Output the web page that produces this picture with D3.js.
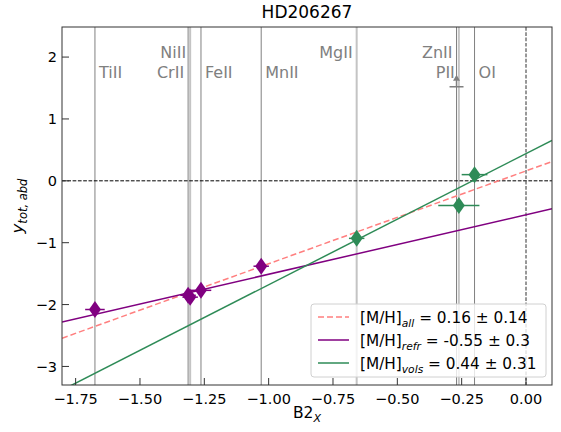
<!DOCTYPE html>
<html>
<head>
<meta charset="utf-8">
<script src="https://cdn.jsdelivr.net/npm/d3@7"></script>
<style>
	body { margin: 0; background: #fff; }
	svg { font-family: "DejaVu Sans", sans-serif; }
</style>
</head>
<body>
<svg id="svgDepl" width="561" height="432"></svg>
<script>
// element lines (B2_X positions), labels, alignment
const elemNames = ["TiII", "NiII", "CrII", "FeII", "MnII", "MgII", "ZnII", "PII", "OI"];
const elemX = [-1.675, -1.305, -1.313, -1.263, -1.029, -0.658, -0.270, -0.261, -0.200];
const elemRow = [0, 1, 0, 0, 0, 1, 1, 0, 0]; // 1 = upper row
const elemSide = ["right", "left", "left", "right", "right", "left", "left", "left", "right"];
const elemFaint = [false, true, false, false, false, true, false, true, false];

// measured points
const ptNames = ["TiII", "CrII", "NiII", "FeII", "MnII", "MgII", "PII", "OI"];
const ptX = [-1.675, -1.313, -1.305, -1.263, -1.029, -0.658, -0.261, -0.200];
const ptY = [-2.08, -1.85, -1.88, -1.77, -1.38, -0.93, -0.40, 0.10];
const ptXerr = [0.038, 0.03, 0.03, 0.04, 0.03, 0.03, 0.08, 0.05];
const ptGroup = ["refr", "refr", "refr", "refr", "refr", "vols", "vols", "vols"];

// upper limit (ZnII)
const limX = [-0.270];
const limY = [1.52];

// fits: y = intercept + slope * x
const fitNames = ["all", "refr", "vols"];
const fitIntercept = [0.16, -0.55, 0.44];
const fitSlope = [1.50, 0.96, 2.12];
const fitLabel = ["= 0.16 \u00b1 0.14", "= -0.55 \u00b1 0.3", "= 0.44 \u00b1 0.31"];
const fitColor = ["#ff7f7f", "#800080", "#2e8b57"];
const fitDash = ["6,3", null, null];

const xTicks = [-1.75, -1.5, -1.25, -1.0, -0.75, -0.5, -0.25, 0.0];
const yTicks = [-3, -2, -1, 0, 1, 2];

let margin = { top: 27, right: 9, bottom: 47, left: 62 };
let width = 561, height = 432;

let svg = d3.select("#svgDepl");

let x = d3.scaleLinear().domain([-1.803, 0.101]).range([margin.left, width - margin.right]);
let y = d3.scaleLinear().domain([-3.30, 2.486]).range([height - margin.bottom, margin.top]);

let fmtX = (d) => d3.format(".2f")(d).replace("-", "\u2212");
let fmtY = (d) => d3.format("d")(d).replace("-", "\u2212");

svg.append("defs")
	.append("clipPath")
	.attr("id", "plotclip")
	.append("rect")
	.attr("x", x.range()[0])
	.attr("y", y.range()[1])
	.attr("width", x.range()[1] - x.range()[0])
	.attr("height", y.range()[0] - y.range()[1]);

let plot = svg.append("g").attr("clip-path", "url(#plotclip)");

// vertical element lines
plot.selectAll(".eline")
	.data(elemX)
	.enter()
	.append("line")
	.attr("class", "eline")
	.attr("x1", (d) => x(d))
	.attr("x2", (d) => x(d))
	.attr("y1", y.range()[1])
	.attr("y2", y.range()[0])
	.attr("stroke", (d, i) => (elemFaint[i] ? "#c4c4c4" : "#808080"))
	.attr("stroke-width", (d, i) => (elemFaint[i] ? 2 : 1));

// reference dashed lines
plot.append("line")
	.attr("x1", x.range()[0])
	.attr("x2", x.range()[1])
	.attr("y1", y(0))
	.attr("y2", y(0))
	.attr("stroke", "black")
	.attr("stroke-width", 1)
	.attr("stroke-dasharray", "3.7,1.6");
plot.append("line")
	.attr("x1", x(0))
	.attr("x2", x(0))
	.attr("y1", y.range()[1])
	.attr("y2", y.range()[0])
	.attr("stroke", "#555")
	.attr("stroke-width", 1.2)
	.attr("stroke-dasharray", "3.7,1.6");

// element labels
svg.selectAll(".elabel")
	.data(elemNames)
	.enter()
	.append("text")
	.attr("class", "elabel")
	.attr("x", (d, i) => x(elemX[i]) + (elemSide[i] === "right" ? 4 : -4))
	.attr("y", (d, i) => y(elemRow[i] ? 2.08 : 1.75))
	.attr("dy", "0.36em")
	.attr("text-anchor", (d, i) => (elemSide[i] === "right" ? "start" : "end"))
	.attr("fill", "#808080")
	.style("font-size", "16px")
	.text((d) => d);

// fit lines
let xd = x.domain();
plot.selectAll(".fit")
	.data(fitNames)
	.enter()
	.append("line")
	.attr("class", "fit")
	.attr("x1", x(xd[0]))
	.attr("x2", x(xd[1]))
	.attr("y1", (d, i) => y(fitIntercept[i] + fitSlope[i] * xd[0]))
	.attr("y2", (d, i) => y(fitIntercept[i] + fitSlope[i] * xd[1]))
	.attr("stroke", (d, i) => fitColor[i])
	.attr("stroke-width", 1.5)
	.attr("stroke-dasharray", (d, i) => fitDash[i]);

// upper limit
let lim = plot.selectAll(".lim").data(limX).enter().append("g").attr("class", "lim");
lim.append("line")
	.attr("x1", (d) => x(d) - 7)
	.attr("x2", (d) => x(d) + 7)
	.attr("y1", (d, i) => y(limY[i]))
	.attr("y2", (d, i) => y(limY[i]))
	.attr("stroke", "#808080")
	.attr("stroke-width", 1.5);
lim.append("line")
	.attr("x1", (d) => x(d))
	.attr("x2", (d) => x(d))
	.attr("y1", (d, i) => y(limY[i]))
	.attr("y2", (d, i) => y(limY[i]) - 6)
	.attr("stroke", "#808080")
	.attr("stroke-width", 1.5);
lim.append("path")
	.attr("d", (d, i) => {
		let cx = x(d), cy = y(limY[i]) - 6;
		return `M${cx - 3.5},${cy} L${cx + 3.5},${cy} L${cx},${cy - 6} Z`;
	})
	.attr("fill", "#808080");

// points with x error bars
let ptColor = (i) => (ptGroup[i] === "refr" ? "#800080" : "#2e8b57");
plot.selectAll(".xerr")
	.data(ptX)
	.enter()
	.append("line")
	.attr("class", "xerr")
	.attr("x1", (d, i) => x(d - ptXerr[i]))
	.attr("x2", (d, i) => x(d + ptXerr[i]))
	.attr("y1", (d, i) => y(ptY[i]))
	.attr("y2", (d, i) => y(ptY[i]))
	.attr("stroke", (d, i) => ptColor(i))
	.attr("stroke-width", 1.5);
plot.selectAll(".pt")
	.data(ptX)
	.enter()
	.append("path")
	.attr("class", "pt")
	.attr("d", (d, i) => {
		let cx = x(d), cy = y(ptY[i]);
		return `M${cx},${cy - 8.5} L${cx + 6},${cy} L${cx},${cy + 8.5} L${cx - 6},${cy} Z`;
	})
	.attr("fill", (d, i) => ptColor(i));

// axes
let axisG = svg.append("g");
axisG.selectAll(".xtick")
	.data(xTicks)
	.enter()
	.append("line")
	.attr("x1", (d) => x(d))
	.attr("x2", (d) => x(d))
	.attr("y1", y.range()[0])
	.attr("y2", y.range()[0] - 7)
	.attr("stroke", "#333");
axisG.selectAll(".xlab")
	.data(xTicks)
	.enter()
	.append("text")
	.attr("x", (d) => x(d))
	.attr("y", y.range()[0] + 19)
	.attr("text-anchor", "middle")
	.style("font-size", "14.5px")
	.text(fmtX);
axisG.selectAll(".ytick")
	.data(yTicks)
	.enter()
	.append("line")
	.attr("x1", x.range()[0])
	.attr("x2", x.range()[0] + 7)
	.attr("y1", (d) => y(d))
	.attr("y2", (d) => y(d))
	.attr("stroke", "#333");
axisG.selectAll(".ylab")
	.data(yTicks)
	.enter()
	.append("text")
	.attr("x", x.range()[0] - 5)
	.attr("y", (d) => y(d))
	.attr("dy", "0.36em")
	.attr("text-anchor", "end")
	.style("font-size", "14.5px")
	.text(fmtY);

svg.append("rect")
	.attr("x", x.range()[0])
	.attr("y", y.range()[1])
	.attr("width", x.range()[1] - x.range()[0])
	.attr("height", y.range()[0] - y.range()[1])
	.attr("fill", "none")
	.attr("stroke", "#333")
	.attr("stroke-width", 1);

// title & axis labels
svg.append("text")
	.attr("x", (x.range()[0] + x.range()[1]) / 2)
	.attr("y", 18)
	.attr("text-anchor", "middle")
	.style("font-size", "17px")
	.text("HD206267");

let xl = svg.append("text")
	.attr("x", (x.range()[0] + x.range()[1]) / 2)
	.attr("y", 418)
	.attr("text-anchor", "middle")
	.style("font-size", "15.5px");
xl.append("tspan").text("B2");
xl.append("tspan").attr("dy", 4).style("font-size", "11px").style("font-style", "italic").text("X");

let yl = svg.append("text")
	.attr("transform", `translate(23,${(y.range()[0] + y.range()[1]) / 2}) rotate(-90)`)
	.attr("text-anchor", "middle")
	.style("font-size", "16.5px");
yl.append("tspan").style("font-style", "italic").text("y");
yl.append("tspan").attr("dy", 4).style("font-size", "11.5px").style("font-style", "italic").text("tot, abd");

// legend
let leg = svg.append("g").attr("transform", "translate(311,304)");
leg.append("rect")
	.attr("width", 235)
	.attr("height", 73)
	.attr("rx", 3)
	.attr("fill", "white")
	.attr("fill-opacity", 0.8)
	.attr("stroke", "#d0d0d0");
let rows = leg.selectAll(".row")
	.data(fitNames)
	.enter()
	.append("g")
	.attr("transform", (d, i) => `translate(0,${13 + i * 23})`);
rows.append("line")
	.attr("x1", 7)
	.attr("x2", 38)
	.attr("stroke", (d, i) => fitColor[i])
	.attr("stroke-width", 1.5)
	.attr("stroke-dasharray", (d, i) => fitDash[i]);
let lt = rows.append("text")
	.attr("x", 49)
	.attr("dy", "0.36em")
	.style("font-size", "15.3px");
lt.append("tspan").text("[M/H]");
lt.append("tspan").attr("dy", 4).style("font-size", "10.7px").style("font-style", "italic").text((d) => d);
lt.append("tspan").attr("dy", -4).text((d, i) => " " + fitLabel[i]);
</script>
</body>
</html>
